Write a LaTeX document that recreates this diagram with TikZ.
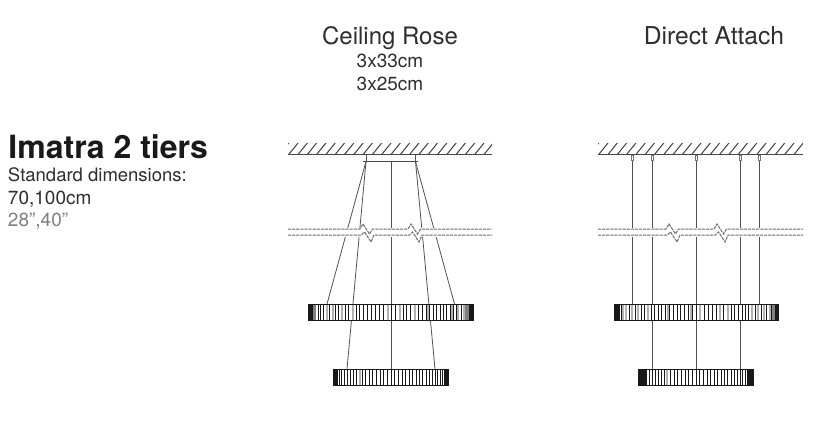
\documentclass[tikz,border=0pt]{standalone}
\usepackage{fontspec}
\setmainfont{TeX Gyre Heros}
\newcommand{\fsz}[1]{\fontsize{#1}{#1}\selectfont}
\tikzset{
  lbl/.style={inner sep=0pt,outer sep=0pt,anchor=base,text=black!82},
  lblw/.style={lbl,anchor=base west},
  wire/.style={draw=black!68,line width=0.8pt},
  ceil/.style={draw=black!72,line width=1pt},
  hatch/.style={draw=black!75,line width=1pt},
  gapline/.style={draw=black!58,line width=1pt,dash pattern=on 3.2pt off 0.9pt},
  ringbox/.style={draw=black!90,line width=1pt,inner sep=0pt,outer sep=0pt,fill=white},
  bar/.style={draw=black!90,line width=0.75pt},
  streak/.style={draw=black!30,line width=1.3pt},
}
\newcommand{\ceilingat}[2]{% x0 x1
  \begin{scope}
    \clip (#1,143) rectangle (#2,154.5);
    \foreach \k in {0,...,23} {
      \draw[hatch] ({#1-9+\k*9.3},155) -- ({#1+1.5+\k*9.3},142);
    }
  \end{scope}
  \draw[ceil] (#1,154.5) -- (#2,154.5);
}
\newcommand{\gapband}[3]{% x0 x1 xshift of zigzags
  \fill[white] (#1,228) rectangle (#2,236.5);
  \foreach \dy in {229,235} {
    \pgfmathsetmacro{\zz}{\dy-229}
    \draw[gapline] (#1,\dy) -- ({#3+360+\zz/4},\dy) -- ({#3+363+\zz/4},{\dy-5+\zz/3}) -- ({#3+369.5+\zz/4},{\dy+5+\zz/3}) -- ({#3+372.5+\zz/4},\dy)
      -- ({#3+408+\zz/4},\dy) -- ({#3+411+\zz/4},{\dy-5+\zz/3}) -- ({#3+417.5+\zz/4},{\dy+5+\zz/3}) -- ({#3+420.5+\zz/4},\dy) -- (#2,\dy);
  }
}
\newcommand{\streaksat}[2]{% ytop, list of x
  \foreach \x in {#2} {\draw[streak] (\x,#1+0.5) -- (\x,#1+15.5);}
}
\newcommand{\ringat}[6]{% name cx halfwidth ytop angle-step end-cap
  \node[ringbox,minimum width=#3*2pt,minimum height=16pt] (#1) at (#2,#4+8) {};
  \foreach \k in {-40,...,40} {
    \pgfmathsetmacro{\a}{\k*#5}
    \pgfmathsetmacro{\off}{1.15*#3*sin(\a)}
    \pgfmathtruncatemacro{\inside}{(abs(\off)<#3 && abs(\a)<85) ? 1 : 0}
    \ifnum\inside=1
      \draw[bar] ({#2+\off},#4) -- ({#2+\off},#4+16);
    \fi
  }
  \fill[black!90] (#2-#3,#4) rectangle (#2-#3+#6,#4+16);
  \fill[black!90] (#2+#3-#6,#4) rectangle (#2+#3,#4+16);
}
\begin{document}
\begin{tikzpicture}[x=1pt,y=-1pt]
\useasboundingbox (0,0) rectangle (813,423);
\fill[white] (0,0) rectangle (813,423);

% ---- texts
\node[lbl] (t1) at (390,44) {\fsz{24}Ceiling Rose};
\node[lbl] (t2) at (390,67) {\fsz{19}3x33cm};
\node[lbl] (t3) at (390,90) {\fsz{19}3x25cm};
\node[lbl] (t4) at (714,44) {\fsz{24.6}Direct Attach};
\node[lblw,text=black!90] (h1) at (8.5,158) {\fsz{32}\bfseries Imatra 2 tiers};
\node[lblw] (h2) at (8,181) {\fsz{18.5}Standard dimensions:};
\node[lblw] (h3) at (8,204) {\fsz{19}70,100cm};
\node[lblw,text=black!50] (h4) at (8,226) {\fsz{19}28”,40”};

% ---- ceilings
\ceilingat{288}{492}
\ceilingat{598}{803}

% ---- ceiling rose view
\coordinate (rl) at (366,161.5);
\coordinate (rr) at (415.5,161.5);
\coordinate (rc) at (391.5,161.5);
\coordinate (rla) at (366,154.5);
\coordinate (rra) at (415.5,154.5);
\coordinate (a1) at (327,304);
\coordinate (a2) at (347,369);
\coordinate (a3) at (391.5,369);
\coordinate (a4) at (435,369);
\coordinate (a5) at (454.5,304);
\draw[wire] (rla) -- (rl);
\draw[wire] (rra) -- (rr);
\draw[ceil,line width=0.9pt] (363,161.5) -- (418,161.5);
\draw[wire] (rl) -- (a1);
\draw[wire] (rl) -- (a2);
\draw[wire] (rc) -- (a3);
\draw[wire] (rr) -- (a4);
\draw[wire] (rr) -- (a5);
\gapband{288}{492}{0}

\ringat{ringA}{391}{82.5}{304}{2.4}{5}
\streaksat{304}{327,333,342,353,388,400,415,428,452,458,464}
\fill[black!50] (313,304.5) rectangle (316,319.5);
\fill[black!50] (465,304.5) rectangle (468.5,319.5);
\ringat{ringB}{391}{57.5}{369}{3.2}{4}
\streaksat{369}{360}

% ---- direct attach view
\foreach \x/\n in {632.5/b1,652.5/b2,696.5/b3,740.5/b4,759.5/b5} {
  \coordinate (\n) at (\x,154.5);
  \draw[wire] (\n) -- (\x,304);
  \draw[draw=black!55,line width=0.5pt,fill=white] (\x-1.2,155) rectangle (\x+1.2,160);
}
\draw[wire] (652.5,320) -- (652.5,369);
\draw[wire] (696.5,320) -- (696.5,369);
\draw[wire] (740.5,320) -- (740.5,369);
\gapband{598}{803}{306}

\ringat{ringC}{696.5}{82}{304}{2.4}{4}
\streaksat{304}{623,626,632,638,648,668,691,700,720,728,752,758,764,770}
\fill[black!50] (772,304.5) rectangle (775,319.5);
\ringat{ringD}{696}{57.5}{369}{3.2}{7}
\streaksat{369}{667}
\end{tikzpicture}
\end{document}
